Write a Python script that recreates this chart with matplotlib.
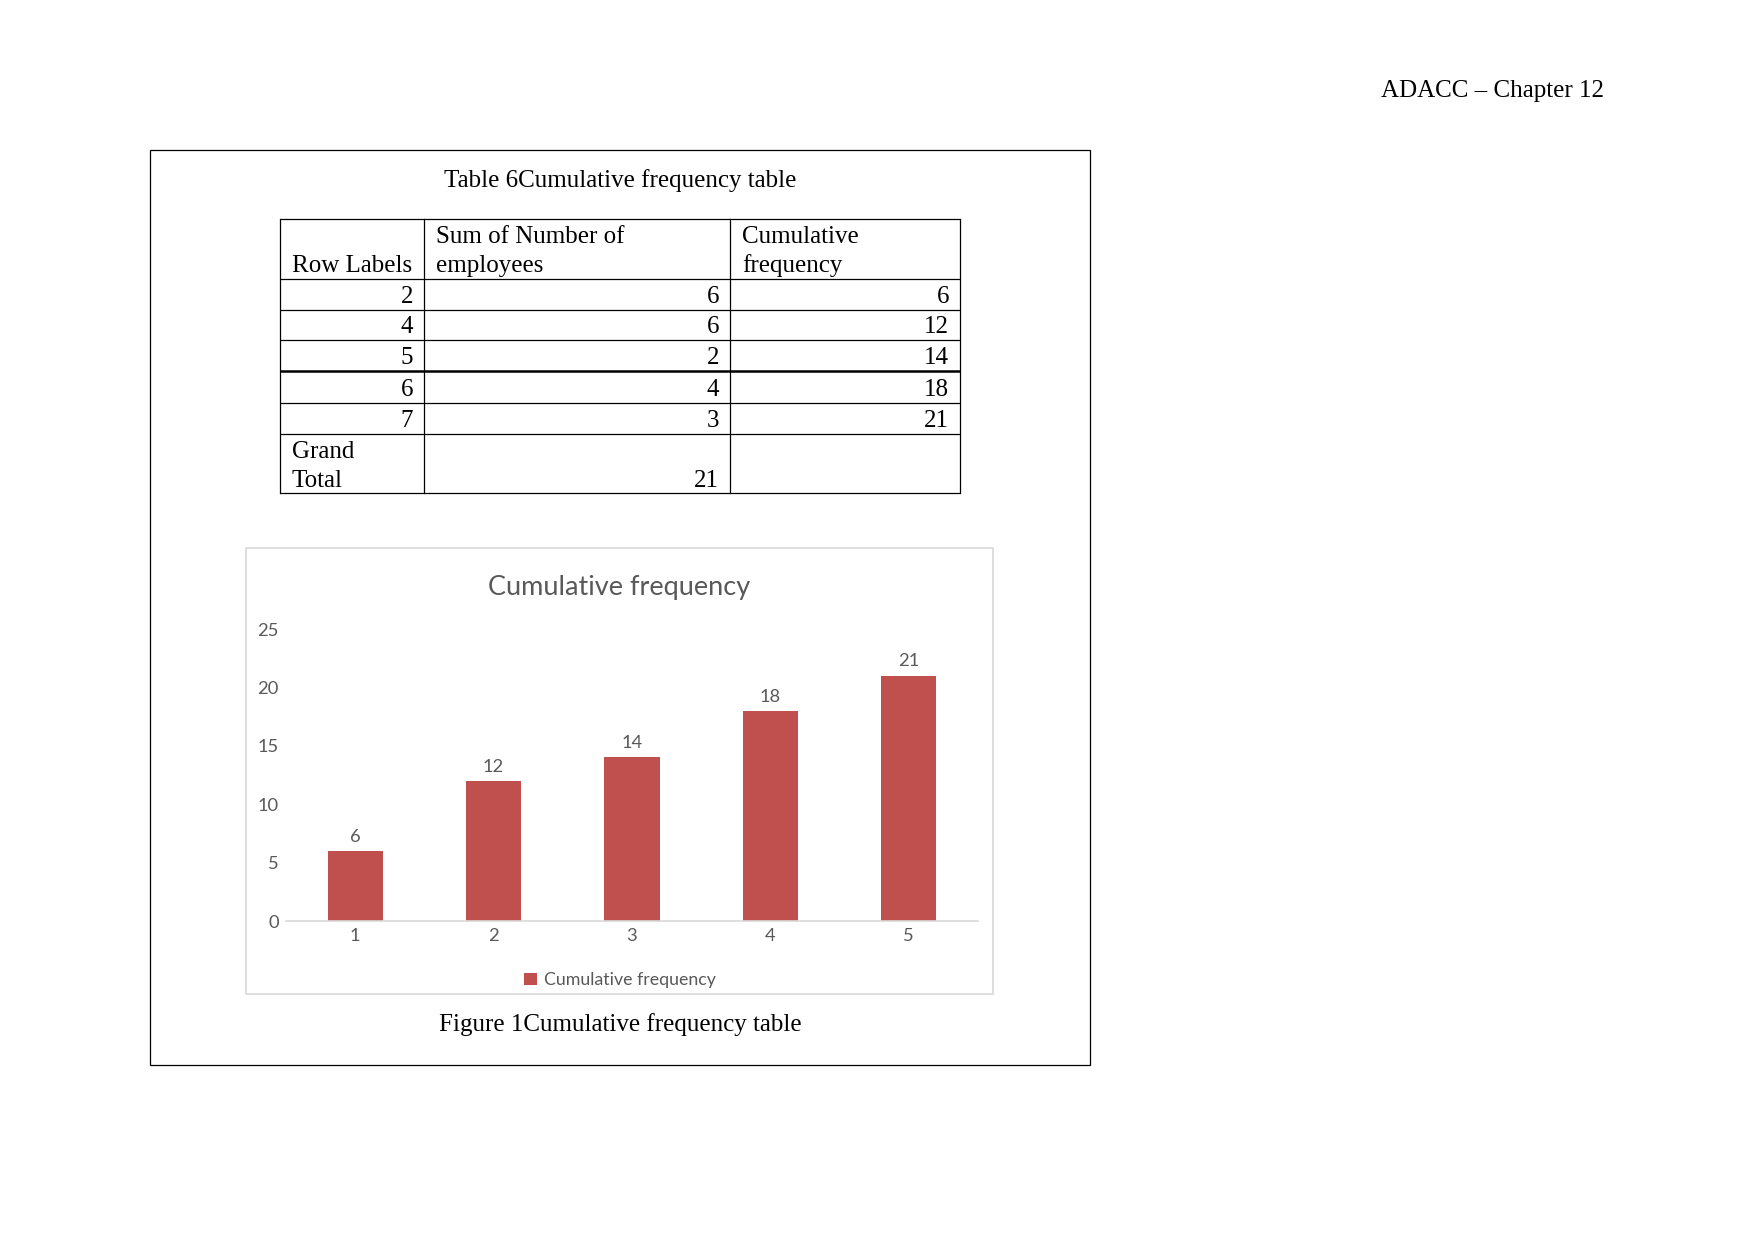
import matplotlib
matplotlib.use("Agg")
import matplotlib.pyplot as plt
from matplotlib.patches import Rectangle

# table data
row_labels = ["2", "4", "5", "6", "7"]
sum_employees = [6, 6, 2, 4, 3]
cumulative = [6, 12, 14, 18, 21]
grand_total = 21

# chart data
categories = [1, 2, 3, 4, 5]
chart_values = cumulative
series_name = "Cumulative frequency"

serif = "Liberation Serif"
sans = "Lato"
grey_text = "#595959"
bar_color = "#C0504D"

fig = plt.figure(figsize=(1754 / 150, 1241 / 150), dpi=150)

# page layer in pixel coordinates
page = fig.add_axes([0, 0, 1, 1])
page.set_xlim(0, 1754)
page.set_ylim(1241, 0)
page.axis("off")

page.text(1604, 97, "ADACC \u2013 Chapter 12", ha="right", va="baseline",
          family=serif, fontsize=12)
page.add_patch(Rectangle((150, 150), 940, 915, fill=False, ec="black", lw=0.6))
page.text(620, 187, "Table 6Cumulative frequency table", ha="center", va="baseline",
          family=serif, fontsize=12)

# table grid
col_x = [280, 424, 730, 960]
row_y = [219, 279, 310, 340, 371, 403, 434, 493]
for y in row_y:
    page.plot([col_x[0], col_x[-1]], [y, y], color="black",
              lw=1.2 if y == 371 else 0.6, solid_capstyle="butt")
for x in col_x:
    page.plot([x, x], [row_y[0], row_y[-1]], color="black", lw=0.6)

tkw = dict(family=serif, fontsize=12, va="baseline")
page.text(col_x[0] + 12, 272, "Row Labels", ha="left", **tkw)
page.text(col_x[1] + 12, 243, "Sum of Number of", ha="left", **tkw)
page.text(col_x[1] + 12, 272, "employees", ha="left", **tkw)
page.text(col_x[2] + 12, 243, "Cumulative", ha="left", **tkw)
page.text(col_x[2] + 12, 272, "frequency", ha="left", **tkw)
for i, (lab, s, c) in enumerate(zip(row_labels, sum_employees, cumulative)):
    base = row_y[i + 2] - 7
    page.text(col_x[1] - 11, base, lab, ha="right", **tkw)
    page.text(col_x[2] - 11, base, str(s), ha="right", **tkw)
    page.text(col_x[3] - 11, base, str(c), ha="right", **tkw)
page.text(col_x[0] + 12, 458, "Grand", ha="left", **tkw)
page.text(col_x[0] + 12, 487, "Total", ha="left", **tkw)
page.text(col_x[2] - 11, 487, str(grand_total), ha="right", **tkw)

# chart frame and title
page.add_patch(Rectangle((246, 548), 747, 446, fill=False, ec="#D9D9D9", lw=0.8))
page.text(619, 587, "Cumulative frequency", ha="center", va="center",
          family=sans, fontsize=13, color=grey_text)
page.text(620, 1031, "Figure 1Cumulative frequency table", ha="center", va="baseline",
          family=serif, fontsize=12)

# bar chart
ax = fig.add_axes([286 / 1754, 1 - 921 / 1241, 692 / 1754, 292 / 1241])
ax.patch.set_alpha(0)
bars = ax.bar(categories, chart_values, width=0.4, color=bar_color, label=series_name)
ax.set_xlim(0.5, 5.5)
ax.set_ylim(0, 25)
ax.set_yticks([0, 5, 10, 15, 20, 25])
ax.set_xticks(categories)
for side in ["top", "right", "left"]:
    ax.spines[side].set_visible(False)
ax.spines["bottom"].set_color("#D9D9D9")
ax.spines["bottom"].set_linewidth(0.8)
ax.tick_params(length=0, labelsize=8.8, labelcolor=grey_text, pad=3.5)
for lbl in ax.get_xticklabels() + ax.get_yticklabels():
    lbl.set_family(sans)
ax.bar_label(bars, padding=3, fontsize=8.8, color=grey_text, family=sans)
ax.legend(loc="center", bbox_to_anchor=(620 / 1754, 1 - 980 / 1241),
          bbox_transform=fig.transFigure, frameon=False,
          prop={"family": sans, "size": 8.5}, labelcolor=grey_text,
          handlelength=0.7, handleheight=0.7, handletextpad=0.4)

fig.savefig("out.png", dpi=150)
